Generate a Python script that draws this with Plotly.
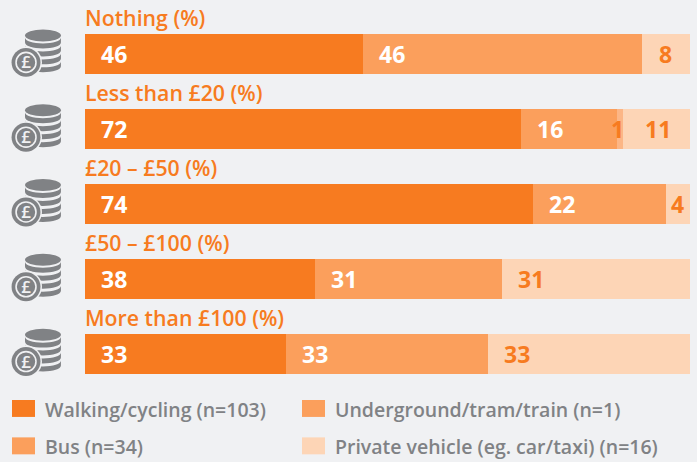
import base64
import plotly.graph_objects as go

categories = ["Nothing (%)", "Less than £20 (%)", "£20 – £50 (%)", "£50 – £100 (%)", "More than £100 (%)"]
walking = [46, 72, 74, 38, 33.3]
bus = [46, 16, 22, 31, 33.3]
underground = [0, 1, 0, 0, 0]
private = [8, 11, 4, 31, 33.4]
series_names = ["Walking/cycling (n=103)", "Bus (n=34)", "Underground/tram/train (n=1)", "Private vehicle (eg. car/taxi) (n=16)"]
series_colors = ["#F77B20", "#FB9F5C", "#FCB686", "#FDD5B6"]
swatch_colors = ["#F77B20", "#FB9F5C", "#FB9F5C", "#FDD5B6"]
label_colors = ["white", "white", "#F77B20", "#F77B20"]

G = "#808285"
BG = "#F0F1F3"
W, H = 697, 462
ML, MR, MT, MB = 85, 7, 16.5, 70.5
FONT = "Open Sans"

bands = "".join(
    f'<path d="M25 {y}v5c0 3.5 8 6 18 6s18-2.5 18-6v-5c0 3.5-8 6-18 6s-18-2.5-18-6z" fill="{G}"/>'
    for y in (18, 26, 34, 42)
)
svg = (
    '<svg xmlns="http://www.w3.org/2000/svg" width="70" height="70" viewBox="0 0 70 70">'
    f'<ellipse cx="43" cy="16" rx="18" ry="6" fill="{G}"/>{bands}'
    f'<circle cx="26" cy="43" r="16" fill="{BG}"/>'
    f'<circle cx="26" cy="43" r="14.5" fill="{G}"/>'
    f'<circle cx="26" cy="43" r="10" fill="none" stroke="{BG}" stroke-width="1.6"/>'
    f'<text x="26" y="49" font-family="Open Sans" font-weight="600" font-size="17" text-anchor="middle" fill="{BG}">£</text>'
    '</svg>'
)
icon = "data:image/svg+xml;base64," + base64.b64encode(svg.encode("utf-8")).decode()

fig = go.Figure()
all_values = [walking, bus, underground, private]
for name, vals, col in zip(series_names, all_values, series_colors):
    fig.add_trace(go.Bar(
        y=categories, x=vals, orientation="h", name=name,
        marker=dict(color=col, line=dict(width=0)),
        textposition="none", showlegend=False, hoverinfo="skip",
    ))

annotations = []
images = []
plot_w, plot_h = W - ML - MR, H - MT - MB
for i, cat in enumerate(categories):
    annotations.append(dict(
        x=0, xref="paper", y=cat, yref="y", yshift=36.5, xanchor="left", yanchor="middle",
        text=cat, showarrow=False, xshift=-2,
        font=dict(family=FONT, size=21.3, color="#F77B20", weight=600),
    ))
    images.append(dict(
        source=icon, xref="paper", yref="y", x=-15 / plot_w, y=cat,
        sizex=70 / plot_w, sizey=70 / 75, xanchor="right", yanchor="middle", layer="above",
    ))
    cum = 0
    for vals, lc in zip(all_values, label_colors):
        v = vals[i]
        if v:
            small = v < 10
            if v == 1:
                x, anchor, shift = cum + v, "right", 3
            elif small:
                x, anchor, shift = cum + v / 2, "center", 0
            else:
                x, anchor, shift = cum, "left", 20 if v == 11 else 14
            annotations.append(dict(
                x=x, y=cat, xref="x", yref="y", xanchor=anchor, xshift=shift,
                text=str(round(v)), showarrow=False,
                font=dict(family=FONT, size=23, color=lc, weight=700),
            ))
        cum += v

# legend drawn in page pixels
def px(x): return (x - ML) / plot_w
def py(y): return 1 - (y - MT) / plot_h
shapes = []
swatch_x = [12, 12, 302, 302]
text_x = [45, 45, 335, 335]
legend_y = [409, 446.5, 409, 446.5]
for name, col, sx, tx, ly in zip(series_names, swatch_colors, swatch_x, text_x, legend_y):
    shapes.append(dict(type="rect", xref="paper", yref="paper",
                       x0=px(sx), x1=px(sx + 23), y0=py(ly - 8.5), y1=py(ly + 8.5),
                       fillcolor=col, line=dict(width=0)))
    annotations.append(dict(
        x=px(tx - 2), y=py(ly + 1), xref="paper", yref="paper", xanchor="left", yanchor="middle",
        text=name, showarrow=False,
        font=dict(family=FONT, size=19.5, color=G, weight=600),
    ))

fig.update_layout(
    width=W, height=H, autosize=False, barmode="stack", bargap=0.465,
    paper_bgcolor=BG, plot_bgcolor=BG,
    margin=dict(l=ML, r=MR, t=MT, b=MB, pad=0),
    xaxis=dict(range=[0, 100], visible=False, fixedrange=True),
    yaxis=dict(categoryorder="array", categoryarray=categories, autorange=False, range=[4.5, -0.5],
               visible=False, fixedrange=True),
    annotations=annotations, images=images, shapes=shapes, showlegend=False,
)
fig.write_html("out.html", config={"displayModeBar": False},
               post_script="document.body.style.margin='0';document.body.style.background='#F0F1F3';")
